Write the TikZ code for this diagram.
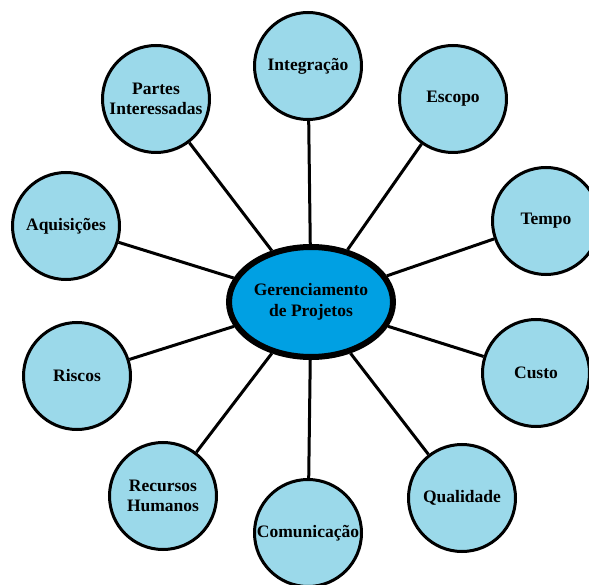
\documentclass[tikz,border=0pt]{standalone}
\usepackage{fontspec}
\setmainfont{Liberation Serif}
\usepackage{tikz}
\usetikzlibrary{shapes,arrows}
\usetikzlibrary{positioning}
\definecolor{areablue}{RGB}{155,217,234}
\definecolor{coreblue}{RGB}{0,160,227}

\begin{document}
\begin{tikzpicture}[x=1pt,y=-1pt,
	area_node/.style={circle,fill=areablue,draw,line width=3pt,minimum size=107pt,inner sep=0pt,align=center,font=\fontsize{17.5}{20}\selectfont\bfseries},
	core_node/.style={ellipse,fill=coreblue,draw,line width=6pt,minimum width=164pt,minimum height=110pt,inner sep=0pt,align=center,font=\fontsize{17.5}{21}\selectfont\bfseries}]
				\clip (0,0) rectangle (589,585);
				\node[core_node](0) at (311,302){Gerenciamento\\de Projetos};
				\node[area_node](1) at (308,66){Integração};
				\node[area_node](2) at (453,99){Escopo};
				\node[area_node](3) at (546,221){Tempo};
				\node[area_node](4) at (536,373){Custo};
				\node[area_node](5) at (462,498){Qualidade};
				\node[area_node](6) at (308,533){Comunicação};
				\node[area_node](7) at (163,496){Recursos\\Humanos};
				\node[area_node](8) at (77,376){Riscos};
				\node[area_node](9) at (66,226){Aquisições};
				\node[area_node](10) at (156,99){Partes\\Interessadas};
				\path[line width=3pt]
				(0) edge (1)
				(0) edge (2)
				(0) edge (3)
				(0) edge (4)
				(0) edge (5)
				(0) edge (6)
				(0) edge (7)
				(0) edge (8)
				(0) edge (9)
				(0) edge (10);
			\end{tikzpicture}
\end{document}
